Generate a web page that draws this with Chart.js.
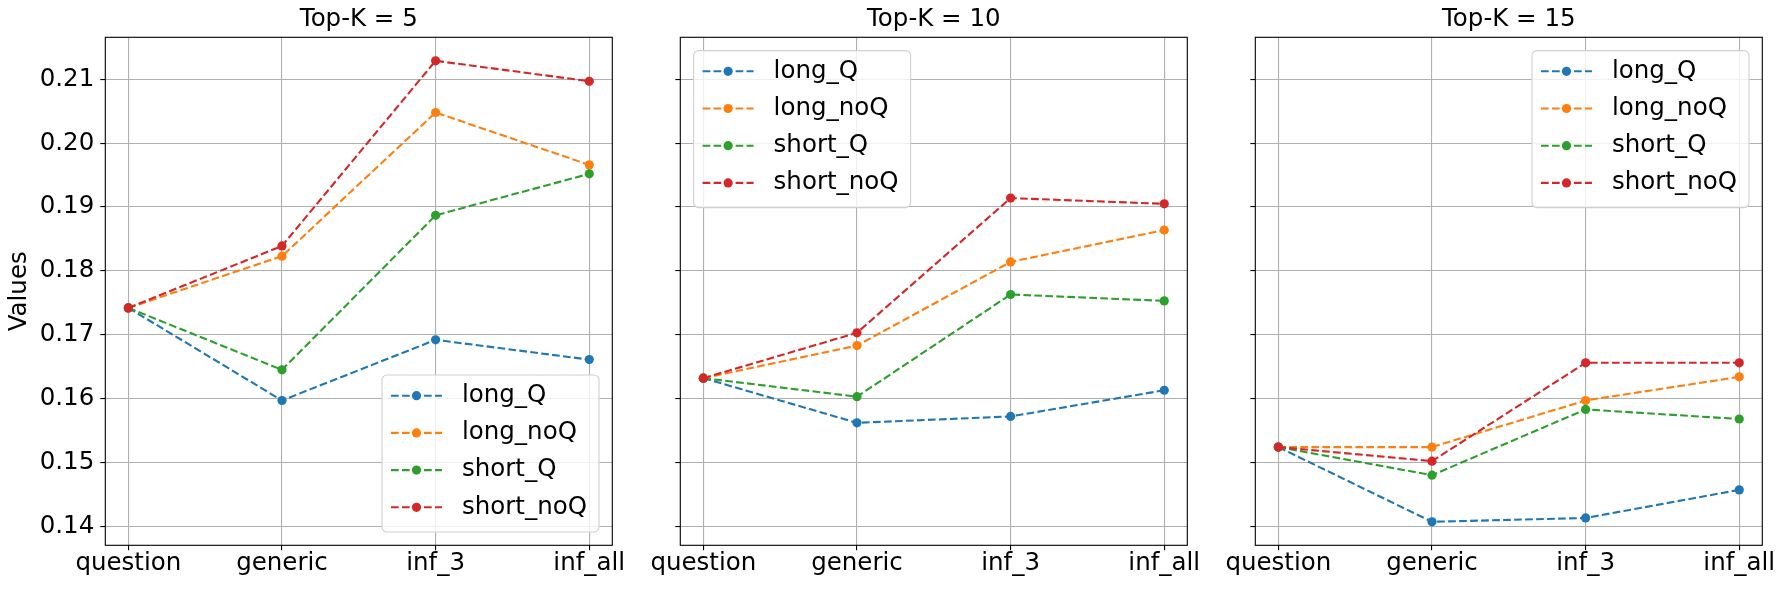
<!DOCTYPE html>
<html>
<head>
<meta charset="utf-8">
<title>Top-K comparison</title>
<script src="https://cdn.jsdelivr.net/npm/chart.js@4.4.1/dist/chart.umd.min.js"></script>
<style>
  html, body { margin: 0; padding: 0; background: #ffffff; }
  #wrap { position: relative; width: 1785px; height: 590px; overflow: hidden; }
  #wrap canvas { position: absolute; left: 0; top: 0; }
</style>
</head>
<body>
<div id="wrap">
  <canvas id="panel0" width="1785" height="590"></canvas>
  <canvas id="panel1" width="1785" height="590"></canvas>
  <canvas id="panel2" width="1785" height="590"></canvas>
</div>
<script>
// ---- data ----
const categories = ["question", "generic", "inf_3", "inf_all"];
const seriesNames = ["long_Q", "long_noQ", "short_Q", "short_noQ"];
const topKValues = [5, 10, 15];
const yTicks = [0.14, 0.15, 0.16, 0.17, 0.18, 0.19, 0.20, 0.21];

// Top-K = 5
const longQ5    = [0.1742, 0.1597, 0.1692, 0.1661];
const longNoQ5  = [0.1742, 0.1823, 0.2048, 0.1966];
const shortQ5   = [0.1742, 0.1645, 0.1887, 0.1952];
const shortNoQ5 = [0.1742, 0.1839, 0.2129, 0.2097];

// Top-K = 10
const longQ10    = [0.1632, 0.1562, 0.1572, 0.1613];
const longNoQ10  = [0.1632, 0.1683, 0.1814, 0.1864];
const shortQ10   = [0.1632, 0.1603, 0.1763, 0.1753];
const shortNoQ10 = [0.1632, 0.1703, 0.1914, 0.1905];

// Top-K = 15
const longQ15    = [0.1524, 0.1407, 0.1413, 0.1457];
const longNoQ15  = [0.1524, 0.1524, 0.1597, 0.1634];
const shortQ15   = [0.1524, 0.1480, 0.1583, 0.1568];
const shortNoQ15 = [0.1524, 0.1502, 0.1656, 0.1656];

const panelSeries = [
    [longQ5, longNoQ5, shortQ5, shortNoQ5],
    [longQ10, longNoQ10, shortQ10, shortNoQ10],
    [longQ15, longNoQ15, shortQ15, shortNoQ15]
];

// ---- style / layout ----
const seriesColors = ["#1f77b4", "#ff7f0e", "#2ca02c", "#d62728"];
const legendCorners = ["lower right", "upper left", "upper right"];
const W = 1785, H = 590;
const plotLeft = [105.3, 680.3, 1255.3];
const plotRight = [612.3, 1187.3, 1762.3];
const PLOT_BOTTOM = 545.3;
const FONT_PX = 24.5;
const FONT_FAMILY = "'DejaVu Sans', sans-serif";
const MARKER_R = 4.6;

/* black box round each plot area (matplotlib spines) */
const frame = {
    id: "frame",
    afterDatasetsDraw(chart) {
        const { ctx, chartArea: a } = chart;
        ctx.save();
        ctx.strokeStyle = "#000";
        ctx.lineWidth = 1.1;
        ctx.strokeRect(a.left, a.top, a.right - a.left, a.bottom - a.top);
        ctx.restore();
    }
};

/* legend drawn inside the plot area */
const insideLegend = {
    id: "insideLegend",
    afterDraw(chart, args, opts) {
        const { ctx, chartArea: a } = chart;
        const sets = chart.data.datasets;
        ctx.save();
        ctx.font = FONT_PX + "px " + FONT_FAMILY;
        const textW = Math.max(...sets.map(d => ctx.measureText(d.label).width));
        const w = 80 + textW + 12;
        const h = 157;
        const inset = 13.3;
        const x = opts.corner.endsWith("right") ? a.right - inset - w : a.left + inset;
        const y = opts.corner.startsWith("upper") ? a.top + inset : a.bottom - inset - h;

        ctx.beginPath();
        ctx.roundRect(x, y, w, h, 5);
        ctx.fillStyle = "rgba(255,255,255,0.8)";
        ctx.fill();
        ctx.strokeStyle = "#d0d0d0";
        ctx.lineWidth = 1.1;
        ctx.stroke();

        sets.forEach((d, i) => {
            const cy = y + 20.7 + i * 37.2;
            ctx.strokeStyle = d.borderColor;
            ctx.lineWidth = 2.1;
            ctx.setLineDash([7.7, 3.3]);
            ctx.beginPath();
            ctx.moveTo(x + 9, cy);
            ctx.lineTo(x + 60, cy);
            ctx.stroke();
            ctx.setLineDash([]);
            ctx.fillStyle = d.backgroundColor;
            ctx.beginPath();
            ctx.arc(x + 34.5, cy, MARKER_R, 0, Math.PI * 2);
            ctx.fill();
            ctx.fillStyle = "#000";
            ctx.textBaseline = "middle";
            ctx.textAlign = "left";
            ctx.fillText(d.label, x + 80, cy);
        });
        ctx.restore();
    }
};

function makePanel(idx) {
    const first = idx === 0;
    const yWidth = first ? plotLeft[0] : 60;

    new Chart(document.getElementById("panel" + idx), {
        type: "line",
        data: {
            datasets: seriesNames.map((name, s) => ({
                label: name,
                data: panelSeries[idx][s].map((v, i) => ({ x: i, y: v })),
                borderColor: seriesColors[s],
                backgroundColor: seriesColors[s],
                borderWidth: 2.1,
                borderDash: [7.7, 3.3],
                pointRadius: MARKER_R,
                pointBorderWidth: 0,
                pointHoverRadius: MARKER_R,
                fill: false,
                tension: 0,
                order: seriesNames.length - s
            }))
        },
        options: {
            responsive: false,
            animation: false,
            events: [],
            layout: {
                padding: { left: plotLeft[idx] - yWidth, right: W - plotRight[idx], top: 0, bottom: 0 }
            },
            scales: {
                x: {
                    type: "linear",
                    min: -0.15,
                    max: 3.15,
                    afterBuildTicks: s => { s.ticks = categories.map((c, i) => ({ value: i })); },
                    afterFit: s => { s.height = H - PLOT_BOTTOM; },
                    ticks: {
                        autoSkip: false,
                        maxRotation: 0,
                        padding: -1,
                        color: "#000",
                        font: { family: FONT_FAMILY, size: FONT_PX },
                        callback: v => categories[v]
                    },
                    grid: { color: "#b0b0b0", lineWidth: 1.1, tickColor: "#000", tickLength: 5, tickWidth: 1.1 },
                    border: { display: false }
                },
                y: {
                    min: 0.13702,
                    max: 0.21658,
                    afterBuildTicks: s => { s.ticks = yTicks.map(v => ({ value: v })); },
                    afterFit: s => { s.width = yWidth; },
                    ticks: {
                        display: first,
                        padding: 6,
                        color: "#000",
                        font: { family: FONT_FAMILY, size: FONT_PX },
                        callback: v => v.toFixed(2)
                    },
                    grid: { color: "#b0b0b0", lineWidth: 1.1, tickColor: "#000", tickLength: 5, tickWidth: 1.1 },
                    border: { display: false },
                    title: {
                        display: first,
                        text: "Values",
                        color: "#000",
                        font: { family: FONT_FAMILY, size: FONT_PX },
                        padding: { top: 5.3, bottom: 0 }
                    }
                }
            },
            plugins: {
                legend: { display: false },
                tooltip: { enabled: false },
                title: {
                    display: true,
                    text: "Top-K = " + topKValues[idx],
                    color: "#000",
                    fullSize: false,
                    font: { family: FONT_FAMILY, size: FONT_PX, weight: "normal" },
                    padding: { top: 5, bottom: 2.9 }
                },
                insideLegend: { corner: legendCorners[idx] }
            }
        },
        plugins: [frame, insideLegend]
    });
}

[0, 1, 2].forEach(makePanel);
</script>
</body>
</html>
